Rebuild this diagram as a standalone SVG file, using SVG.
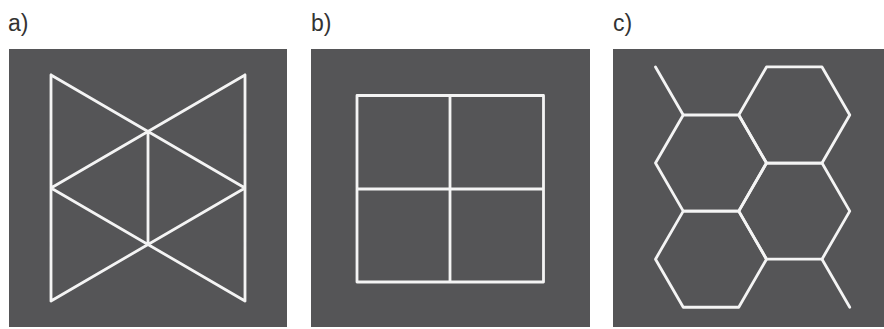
<svg xmlns="http://www.w3.org/2000/svg" width="884" height="329" viewBox="0 0 884 329">
<style>
.bg{fill:#555557}
.ln{fill:none;stroke:#f4f4f4;stroke-width:2.8;stroke-linejoin:round;stroke-linecap:round}
.lbl{font-family:"Liberation Sans",Arial,sans-serif;font-size:23px;fill:#333}
</style>
<rect width="884" height="329" fill="#ffffff"/>
<g id="panel-a">
<text class="lbl" x="8" y="31">a)</text>
<rect class="bg" x="9" y="49" width="278" height="278"/>
<path class="ln" d="M51,75 L51,301 M245,75 L245,301 M51,75 L245,188 M245,75 L51,188 M51,188 L245,301 M245,188 L51,301 M148,131.5 L148,244.5"/>
</g>
<g id="panel-b">
<text class="lbl" x="311" y="31">b)</text>
<rect class="bg" x="311" y="49" width="279" height="278"/>
<path class="ln" d="M357,95.5 L543.5,95.5 L543.5,282 L357,282 Z M450,95.5 L450,282 M357,189 L543.5,189"/>
</g>
<g id="panel-c">
<text class="lbl" x="613" y="31">c)</text>
<rect class="bg" x="613" y="49" width="271" height="278"/>
<path class="ln" d="M738.75,115 L766.5,66.94 L822,66.94 L849.75,115 L822,163.06 L766.5,163.06 Z"/>
<path class="ln" d="M655.5,163.06 L683.25,115 L738.75,115 L766.5,163.06 L738.75,211.12 L683.25,211.12 Z"/>
<path class="ln" d="M738.75,211.12 L766.5,163.06 L822,163.06 L849.75,211.12 L822,259.18 L766.5,259.18 Z"/>
<path class="ln" d="M655.5,259.18 L683.25,211.12 L738.75,211.12 L766.5,259.18 L738.75,307.24 L683.25,307.24 Z"/>
<path class="ln" d="M683.25,115 L655.5,66.94 M822,259.18 L849.75,307.24"/>
</g>
</svg>
